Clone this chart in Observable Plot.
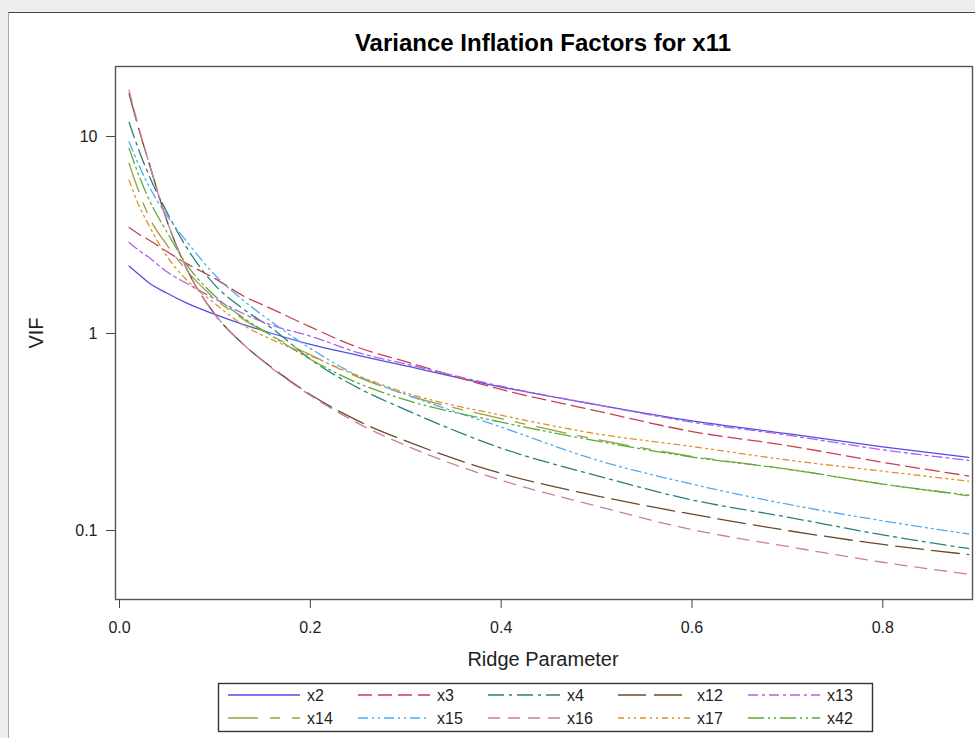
<!DOCTYPE html>
<html>
<head>
<meta charset="utf-8">
<script src="https://cdn.jsdelivr.net/npm/d3@7"></script>
<script src="https://cdn.jsdelivr.net/npm/@observablehq/plot@0.6"></script>
<style>
  html, body { margin: 0; padding: 0; }
  body { width: 975px; height: 738px; overflow: hidden; background: #eeeeee; position: relative;
         font-family: "Liberation Sans", Arial, sans-serif; }
  #panel { position: absolute; left: 8px; top: 12px; width: 990px; height: 740px; background: #fff;
           border-top: 1px solid #444; border-left: 1px solid #aaa; }
  #chart { position: absolute; left: 0; top: 0; }
  .t { position: absolute; color: #000; white-space: nowrap; }
  #title { left: 543px; top: 29px; transform: translateX(-50%); font-size: 24px; font-weight: bold; }
  #xlabel { left: 543px; top: 648px; transform: translateX(-50%); font-size: 20px; color: #222; }
  #ylabel { left: 36px; top: 333px; transform: translate(-50%, -50%) rotate(-90deg); font-size: 20px; color: #222; }
  #legend { position: absolute; left: 0; top: 0; }
</style>
</head>
<body>
<div id="panel"></div>
<div id="chart"></div>
<div class="t" id="title">Variance Inflation Factors for x11</div>
<div class="t" id="xlabel">Ridge Parameter</div>
<div class="t" id="ylabel">VIF</div>
<svg id="legend" width="975" height="738"></svg>
<script>
// Ridge parameter values
const k = [0.01, 0.02, 0.03, 0.05, 0.07, 0.10, 0.13, 0.16, 0.20, 0.25, 0.30, 0.40, 0.50, 0.60, 0.70, 0.80, 0.89];

// VIF series
const x2  = [2.20, 2.00, 1.82, 1.60, 1.43, 1.25, 1.11, 1.00, 0.88, 0.775, 0.685, 0.535, 0.435, 0.360, 0.310, 0.266, 0.235];
const x3  = [3.45, 3.20, 3.00, 2.60, 2.27, 1.90, 1.55, 1.33, 1.08, 0.85, 0.72, 0.52, 0.405, 0.318, 0.270, 0.222, 0.189];
const x4  = [11.8, 8.6, 6.5, 4.1, 2.75, 1.76, 1.33, 1.06, 0.74, 0.53, 0.41, 0.262, 0.190, 0.143, 0.117, 0.095, 0.081];
const x12 = [16.5, 11.0, 7.6, 3.7, 2.15, 1.25, 0.88, 0.67, 0.49, 0.36, 0.285, 0.195, 0.150, 0.121, 0.100, 0.085, 0.0755];
const x13 = [2.90, 2.65, 2.45, 2.05, 1.80, 1.50, 1.26, 1.10, 0.97, 0.80, 0.70, 0.54, 0.435, 0.355, 0.305, 0.257, 0.227];
const x14 = [7.3, 5.3, 4.0, 2.8, 2.1, 1.50, 1.18, 0.97, 0.78, 0.60, 0.49, 0.37, 0.29, 0.238, 0.205, 0.172, 0.150];
const x15 = [9.4, 7.2, 5.7, 3.95, 2.95, 1.98, 1.47, 1.14, 0.84, 0.61, 0.49, 0.335, 0.228, 0.172, 0.136, 0.112, 0.096];
const x16 = [17.2, 11.2, 7.6, 3.7, 2.15, 1.25, 0.88, 0.665, 0.485, 0.35, 0.27, 0.18, 0.133, 0.101, 0.083, 0.069, 0.060];
const x17 = [6.0, 4.5, 3.6, 2.45, 1.88, 1.42, 1.10, 0.93, 0.77, 0.61, 0.50, 0.385, 0.31, 0.267, 0.228, 0.200, 0.178];
const x42 = [8.7, 6.4, 4.9, 3.25, 2.25, 1.55, 1.20, 0.97, 0.74, 0.56, 0.46, 0.355, 0.285, 0.236, 0.205, 0.172, 0.151];

const seriesNames = ["x2", "x3", "x4", "x12", "x13", "x14", "x15", "x16", "x17", "x42"];
const seriesValues = [x2, x3, x4, x12, x13, x14, x15, x16, x17, x42];

// Axis ticks
const xTicks = [0, 0.2, 0.4, 0.6, 0.8];
const yTicks = [0.1, 1, 10];

// Styles
const colors = ["#4f4fe6", "#c8404f", "#2a8078", "#6b4a28", "#b060e8", "#98a040", "#50aaf5", "#cc7e9e", "#e0902a", "#58ad3c"];
const dashes = ["none", "14,6", "16,5,3,5", "28,8", "10,4,3,4", "30,12,10,12", "10,4,2,4,2,4", "12,8", "6,4,2,4,2,4", "16,4,2,4,2,4"];

const series = seriesNames.map((name, i) => ({
  name, color: colors[i], dash: dashes[i],
  data: k.map((kk, j) => ({k: kk, v: seriesValues[i][j]}))
}));

const chart = Plot.plot({
  width: 975,
  height: 680,
  marginLeft: 115,
  marginRight: 3,
  marginTop: 66,
  marginBottom: 81,
  style: {background: "transparent", fontFamily: "'Liberation Sans', Arial, sans-serif", color: "#222"},
  x: {domain: [-0.0042, 0.894]},
  y: {type: "log", domain: [0.04465, 22.66]},
  marks: [
    ...series.map(s => Plot.line(s.data, {
      x: "k", y: "v", stroke: s.color, strokeWidth: 1.3,
      strokeDasharray: s.dash === "none" ? undefined : s.dash,
      curve: "monotone-x", clip: true
    })),
    Plot.frame({stroke: "#555", strokeWidth: 1.4}),
    Plot.axisX({ticks: xTicks, tickFormat: d3.format(".1f"), tickSize: 9, tickPadding: 13,
                fontSize: 16, label: null, stroke: "#444"}),
    Plot.axisY({ticks: yTicks, tickFormat: d => String(d), tickSize: 9, tickPadding: 9,
                fontSize: 16, label: null, stroke: "#444"})
  ]
});
document.getElementById("chart").appendChild(chart);

// Legend
const lg = d3.select("#legend");
lg.append("rect").attr("x", 218.5).attr("y", 683.5).attr("width", 654).attr("height", 48)
  .attr("fill", "white").attr("stroke", "#333").attr("stroke-width", 1.4);
const colX = [228, 358, 488, 618, 748];
const rowY = [695, 718];
series.forEach((s, i) => {
  const c = i % 5, r = Math.floor(i / 5);
  const x0 = colX[c], y0 = rowY[r];
  lg.append("line").attr("x1", x0).attr("x2", x0 + 72).attr("y1", y0).attr("y2", y0)
    .attr("stroke", s.color).attr("stroke-width", 1.5)
    .attr("stroke-dasharray", s.dash === "none" ? null : s.dash);
  lg.append("text").attr("x", x0 + 79).attr("y", y0).attr("dy", "0.35em")
    .attr("font-size", 16).attr("fill", "#222")
    .attr("font-family", "'Liberation Sans', Arial, sans-serif").text(s.name);
});
</script>
</body>
</html>
